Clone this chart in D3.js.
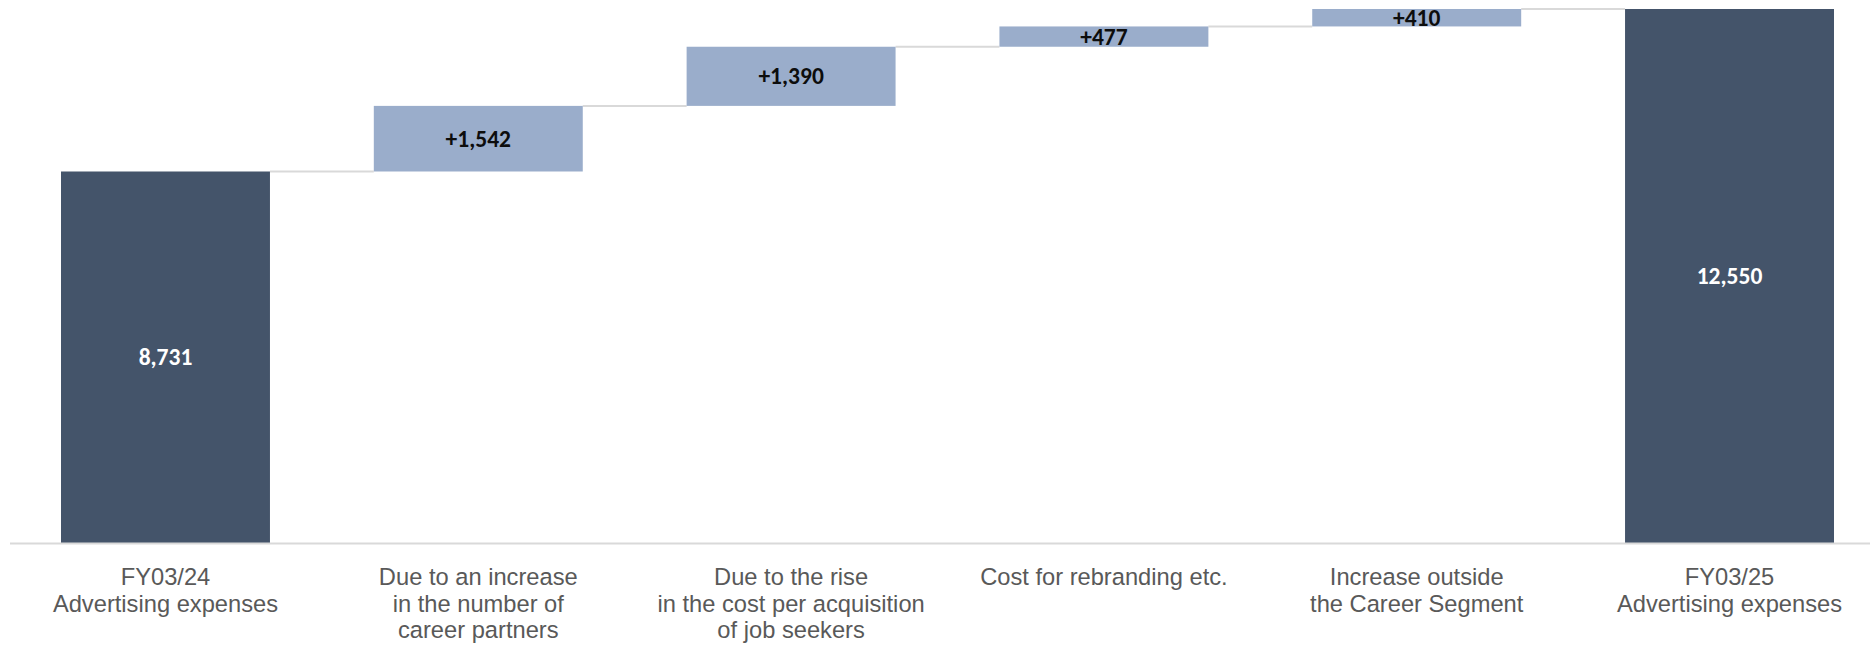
<!DOCTYPE html>
<html>
<head>
<meta charset="utf-8">
<script src="https://cdn.jsdelivr.net/npm/d3@7"></script>
<style>
  html, body { margin: 0; padding: 0; background: #ffffff; }
  svg { display: block; }
</style>
</head>
<body>
<svg id="chart" width="1870" height="647"></svg>
<script>
// Advertising expense bridge, FY03/24 -> FY03/25
const categories = [
  ["FY03/24", "Advertising expenses"],
  ["Due to an increase", "in the number of", "career partners"],
  ["Due to the rise", "in the cost per acquisition", "of job seekers"],
  ["Cost for rebranding etc."],
  ["Increase outside", "the Career Segment"],
  ["FY03/25", "Advertising expenses"]
];
const kinds = ["total", "delta", "delta", "delta", "delta", "total"];
const values = [8731, 1542, 1390, 477, 410, 12550];
const valueLabels = ["8,731", "+1,542", "+1,390", "+477", "+410", "12,550"];

const W = 1870, H = 647;
const svg = d3.select("#chart");

const keys = categories.map((c, i) => "c" + i);

// waterfall segments: totals start at zero, deltas stack on the running sum
let running = 0;
const segs = values.map((v, i) => {
  let lo, hi;
  if (kinds[i] === "total") { lo = 0; hi = v; running = v; }
  else { lo = running; hi = running + v; running = hi; }
  return { key: keys[i], kind: kinds[i], lo, hi, label: valueLabels[i], cat: categories[i] };
});

const x = d3.scaleBand().domain(keys).range([61, 1834]).paddingInner(0.332).paddingOuter(0);
const y = d3.scaleLinear().domain([0, 12550]).range([543, 9]);

const colTotal = "#44546a";
const colDelta = "#9aadcb";
const colGrid = "#d9d9d9";

// connectors between consecutive bars
const conn = svg.append("g");
segs.slice(0, -1).forEach((s, i) => {
  const nxt = segs[i + 1];
  conn.append("line")
    .attr("x1", x(s.key) + x.bandwidth())
    .attr("x2", x(nxt.key))
    .attr("y1", y(s.hi)).attr("y2", y(s.hi))
    .attr("stroke", colGrid).attr("stroke-width", 2);
});

// bars
svg.append("g").selectAll("rect").data(segs).join("rect")
  .attr("x", d => x(d.key))
  .attr("width", x.bandwidth())
  .attr("y", d => y(d.hi))
  .attr("height", d => y(d.lo) - y(d.hi))
  .attr("fill", d => d.kind === "total" ? colTotal : colDelta);

// baseline
svg.append("line")
  .attr("x1", 10).attr("x2", W)
  .attr("y1", 543.5).attr("y2", 543.5)
  .attr("stroke", colGrid).attr("stroke-width", 2);

// value labels
svg.append("g").selectAll("text").data(segs).join("text")
  .attr("x", d => x(d.key) + x.bandwidth() / 2)
  .attr("y", d => (y(d.lo) + y(d.hi)) / 2)
  .attr("text-anchor", "middle")
  .attr("dominant-baseline", "central")
  .attr("font-family", "Carlito, Calibri, 'Open Sans', sans-serif")
  .attr("font-weight", 700)
  .attr("font-size", 23.5)
  .attr("fill", d => d.kind === "total" ? "#ffffff" : "#0d0d0d")
  .text(d => d.label);

// category labels under the axis
const cat = svg.append("g").selectAll("text").data(segs).join("text")
  .attr("x", d => x(d.key) + x.bandwidth() / 2)
  .attr("y", 585)
  .attr("text-anchor", "middle")
  .attr("font-family", "'Liberation Sans', Arial, sans-serif")
  .attr("font-size", 23.7)
  .attr("fill", "#595959");
cat.each(function(d) {
  const t = d3.select(this);
  d.cat.forEach((line, j) => {
    t.append("tspan")
      .attr("x", x(d.key) + x.bandwidth() / 2)
      .attr("y", 585 + j * 26.7)
      .text(line);
  });
});
</script>
</body>
</html>
